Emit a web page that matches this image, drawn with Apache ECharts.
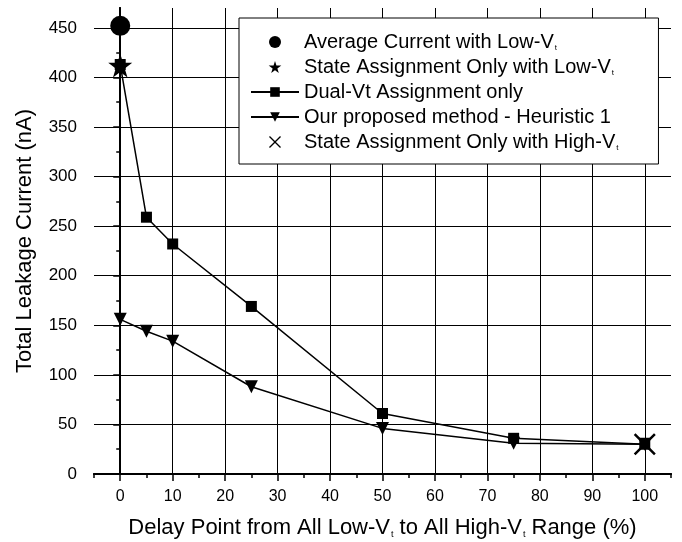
<!DOCTYPE html>
<html>
<head>
<meta charset="utf-8">
<script src="https://cdn.jsdelivr.net/npm/echarts@6/dist/echarts.min.js"></script>
<style>
  html, body { margin: 0; padding: 0; background: #fff; }
  #chart { width: 682px; height: 542px; }
</style>
</head>
<body>
<div id="chart"></div>
<script>
// data
const delayPct = [0, 5, 10, 25, 50, 75, 100];
const dualVt = [413, 259, 232, 169, 61, 36, 30];
const heuristic1 = [156, 144, 134, 88, 46, 31, 30];
const avgLowVt = [[0, 452]];
const stateLowVt = [[0, 412]];
const stateHighVt = [[100, 30]];

const xMajor = [0, 10, 20, 30, 40, 50, 60, 70, 80, 90, 100];
const xMinor = [-5, 5, 15, 25, 35, 45, 55, 65, 75, 85, 95, 105];
const yMajor = [0, 50, 100, 150, 200, 250, 300, 350, 400, 450];
const yMinor = [25, 75, 125, 175, 225, 275, 325, 375, 425];

const names = [
  'Average Current with Low-Vt',
  'State Assignment Only with Low-Vt',
  'Dual-Vt Assignment only',
  'Our proposed method - Heuristic 1',
  'State Assignment Only with High-Vt'
];

const FONT = 'Liberation Sans, Arial, sans-serif';
const starPath = 'path://M50,0 L61,35 L98,35 L68,57 L79,91 L50,70 L21,91 L32,57 L2,35 L39,35 Z';
const crossPath = 'path://M0,0.8 L0.8,0 L5,4.2 L9.2,0 L10,0.8 L5.8,5 L10,9.2 L9.2,10 L5,5.8 L0.8,10 L0,9.2 L4.2,5 Z';

function zip(xs, ys) {
  return xs.map((x, i) => [x, ys[i]]);
}

const chart = echarts.init(document.getElementById('chart'), null, { renderer: 'canvas' });

const option = {
  backgroundColor: '#fff',
  animation: false,
  grid: { left: 94, right: 11, top: 8, bottom: 68, containLabel: false, outerBoundsMode: 'none' },
  legend: {
    orient: 'vertical',
    left: 239,
    top: 18,
    padding: [14, 40, 12, 11],
    backgroundColor: '#fff',
    borderColor: '#000',
    borderWidth: 1,
    borderRadius: 0,
    itemWidth: 48,
    itemHeight: 12,
    itemGap: 5,
    data: names,
    formatter: function (n) {
      if (/-Vt$/.test(n)) return '{a|' + n.slice(0, -1) + '}{s|t}';
      return '{a|' + n + '}';
    },
    textStyle: {
      color: '#000', fontFamily: FONT, fontSize: 20,
      rich: {
        a: { fontSize: 20, fontFamily: FONT, color: '#000' },
        s: { fontSize: 8, fontFamily: FONT, color: '#000', padding: [12, 0, 0, 1] }
      }
    }
  },
  xAxis: [
    {
      type: 'value', min: -5, max: 105, position: 'bottom',
      axisLine: { lineStyle: { color: '#000', width: 2 } },
      axisTick: { customValues: xMajor, length: 7, lineStyle: { color: '#000', width: 1.5 } },
      axisLabel: { customValues: xMajor, color: '#000', fontSize: 16, fontFamily: FONT, margin: 15 },
      splitLine: { show: true, lineStyle: { color: '#000', width: 1 } },
      name: '{a|Delay Point from All Low-V}{s|t}{a| to All High-V}{s|t}{a| Range (%)}',
      nameLocation: 'middle',
      nameGap: 42,
      nameTextStyle: {
        fontFamily: FONT, fontSize: 22, color: '#000',
        rich: {
          a: { fontSize: 22, fontFamily: FONT, color: '#000' },
          s: { fontSize: 9, fontFamily: FONT, color: '#000', padding: [14, 0, 0, 1] }
        }
      }
    },
    {
      type: 'value', min: -5, max: 105, position: 'bottom',
      axisLine: { show: false },
      axisTick: { customValues: xMinor, length: 4, lineStyle: { color: '#000', width: 1.5 } },
      axisLabel: { show: false },
      splitLine: { show: false }
    },
    {
      type: 'value', min: -5, max: 105, position: 'top',
      axisLine: { lineStyle: { color: '#000', width: 2 } },
      axisTick: { show: false },
      axisLabel: { show: false },
      splitLine: { show: false }
    }
  ],
  yAxis: [
    {
      type: 'value', min: 0, max: 470, position: 'left',
      axisLine: { show: true, lineStyle: { color: '#000', width: 2 } },
      axisTick: { show: true, customValues: yMajor, length: 7, lineStyle: { color: '#000', width: 1.5 } },
      axisLabel: { customValues: yMajor, color: '#000', fontSize: 17, fontFamily: FONT, margin: 17 },
      splitLine: { show: true, lineStyle: { color: '#000', width: 1 } },
      name: 'Total Leakage Current (nA)',
      nameLocation: 'middle',
      nameGap: 58,
      nameTextStyle: { fontFamily: FONT, fontSize: 22, color: '#000' }
    },
    {
      type: 'value', min: 0, max: 470, position: 'left',
      axisLine: { show: false },
      axisTick: { show: true, customValues: yMinor, length: 4, lineStyle: { color: '#000', width: 1.5 } },
      axisLabel: { show: false },
      splitLine: { show: false }
    },
    {
      type: 'value', min: 0, max: 470, position: 'right',
      axisLine: { show: true, lineStyle: { color: '#000', width: 2 } },
      axisTick: { show: false },
      axisLabel: { show: false },
      splitLine: { show: false }
    }
  ],
  series: [
    {
      name: names[2], type: 'line', data: zip(delayPct, dualVt),
      symbol: 'rect', symbolSize: 11,
      lineStyle: { color: '#000', width: 1.5 },
      itemStyle: { color: '#000', opacity: 1 },
      z: 3
    },
    {
      name: names[3], type: 'line', data: zip(delayPct, heuristic1),
      symbol: 'triangle', symbolRotate: 180, symbolSize: 13,
      lineStyle: { color: '#000', width: 1.5 },
      itemStyle: { color: '#000', opacity: 1 },
      z: 3
    },
    {
      name: names[0], type: 'scatter', data: avgLowVt,
      symbol: 'circle', symbolSize: 20,
      itemStyle: { color: '#000', opacity: 1 }, z: 4
    },
    {
      name: names[1], type: 'scatter', data: stateLowVt,
      symbol: starPath, symbolSize: 24,
      itemStyle: { color: '#000', opacity: 1 }, z: 4
    },
    {
      name: names[4], type: 'scatter', data: stateHighVt,
      symbol: crossPath, symbolSize: 22,
      itemStyle: { color: '#000', opacity: 1 }, z: 4
    }
  ]
};

chart.setOption(option);
</script>
</body>
</html>
